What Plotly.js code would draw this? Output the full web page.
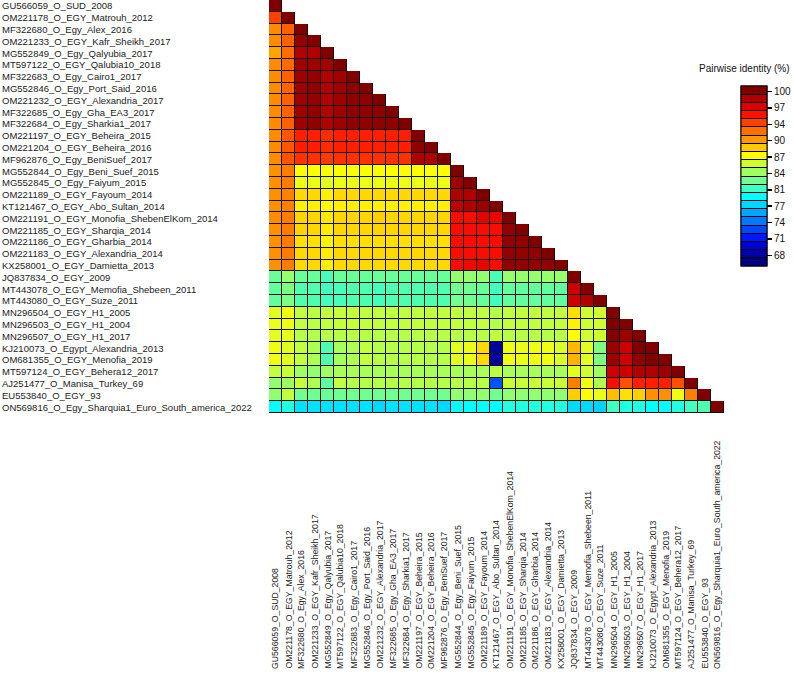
<!DOCTYPE html>
<html><head><meta charset="utf-8">
<script src="https://cdn.plot.ly/plotly-3.0.1.min.js"></script>
<style>html,body{margin:0;padding:0;background:#fff}#chart{width:794px;height:680px}</style>
</head><body><div id="chart"></div>
<script>
const sequences = [
 'GU566059_O_SUD_2008','OM221178_O_EGY_Matrouh_2012','MF322680_O_Egy_Alex_2016','OM221233_O_EGY_Kafr_Sheikh_2017',
 'MG552849_O_Egy_Qalyubia_2017','MT597122_O_EGY_Qalubia10_2018','MF322683_O_Egy_Cairo1_2017','MG552846_O_Egy_Port_Said_2016',
 'OM221232_O_EGY_Alexandria_2017','MF322685_O_Egy_Gha_EA3_2017','MF322684_O_Egy_Sharkia1_2017','OM221197_O_EGY_Beheira_2015',
 'OM221204_O_EGY_Beheira_2016','MF962876_O_Egy_BeniSuef_2017','MG552844_O_Egy_Beni_Suef_2015','MG552845_O_Egy_Faiyum_2015',
 'OM221189_O_EGY_Fayoum_2014','KT121467_O_EGY_Abo_Sultan_2014','OM221191_O_EGY_Monofia_ShebenElKom_2014','OM221185_O_EGY_Sharqia_2014',
 'OM221186_O_EGY_Gharbia_2014','OM221183_O_EGY_Alexandria_2014','KX258001_O_EGY_Damietta_2013','JQ837834_O_EGY_2009',
 'MT443078_O_EGY_Memofia_Shebeen_2011','MT443080_O_EGY_Suze_2011','MN296504_O_EGY_H1_2005','MN296503_O_EGY_H1_2004',
 'MN296507_O_EGY_H1_2017','KJ210073_O_Egypt_Alexandria_2013','OM681355_O_EGY_Menofia_2019','MT597124_O_EGY_Behera12_2017',
 'AJ251477_O_Manisa_Turkey_69','EU553840_O_EGY_93','ON569816_O_Egy_Sharquia1_Euro_South_america_2022'
];

// lower-triangle pairwise identity (%), row i has values for columns 0..i
const identity = [
 [100],
 [93.9, 100],
 [91.2, 92.8, 100],
 [91.2, 92.8, 99.4, 100],
 [90.3, 92.4, 98.6, 98.7, 100],
 [91.2, 92.5, 99.1, 99.2, 99.0, 100],
 [91.2, 92.8, 99.2, 99.5, 98.6, 99.0, 100],
 [91.2, 92.8, 99.1, 99.5, 98.6, 99.1, 99.6, 100],
 [91.2, 92.8, 99.1, 99.5, 98.6, 99.1, 99.6, 99.6, 100],
 [91.2, 92.8, 99.1, 99.5, 98.6, 99.1, 99.6, 99.6, 99.6, 100],
 [91.2, 92.8, 99.1, 99.6, 98.7, 99.2, 99.6, 99.6, 99.6, 99.6, 100],
 [91.2, 93.2, 95.0, 95.0, 94.6, 95.0, 95.0, 95.0, 95.0, 95.0, 95.0, 100],
 [91.2, 93.2, 95.0, 95.0, 94.6, 95.0, 95.0, 95.0, 95.0, 95.0, 95.0, 99.6, 100],
 [91.2, 93.3, 94.4, 94.4, 94.1, 94.4, 94.4, 94.4, 94.4, 94.4, 94.4, 98.7, 98.7, 100],
 [91.0, 91.8, 87.5, 87.5, 87.4, 87.5, 87.5, 87.5, 87.5, 87.5, 87.5, 87.5, 87.5, 87.5, 100],
 [91.0, 91.8, 86.9, 86.9, 86.6, 86.9, 86.9, 86.9, 86.9, 86.9, 86.9, 86.9, 86.9, 86.9, 99.2, 100],
 [91.0, 91.6, 88.6, 88.6, 87.9, 88.6, 88.6, 88.6, 88.6, 88.6, 88.6, 88.6, 88.6, 88.6, 98.7, 98.7, 100],
 [91.0, 91.6, 87.9, 87.9, 87.5, 87.9, 87.9, 87.9, 87.9, 87.9, 87.9, 87.9, 87.9, 87.9, 98.3, 98.7, 99.2, 100],
 [91.2, 91.8, 88.7, 88.7, 88.1, 88.7, 88.7, 88.7, 88.9, 88.7, 88.7, 88.7, 88.7, 88.7, 95.8, 95.8, 96.8, 96.5, 100],
 [91.0, 91.8, 88.7, 88.7, 88.0, 88.7, 88.7, 88.7, 88.7, 88.7, 88.7, 88.7, 88.7, 88.7, 95.8, 95.8, 95.8, 95.8, 99.5, 100],
 [91.0, 91.8, 88.4, 88.4, 87.8, 88.4, 88.4, 88.4, 88.4, 88.4, 88.4, 88.4, 88.4, 88.4, 95.8, 95.8, 95.8, 95.8, 99.5, 99.5, 100],
 [91.0, 91.8, 88.6, 88.6, 88.0, 88.6, 88.6, 88.6, 88.6, 88.6, 88.6, 88.6, 88.6, 88.6, 95.8, 95.8, 95.8, 95.8, 99.5, 99.5, 99.5, 100],
 [91.0, 91.8, 88.6, 88.6, 88.0, 88.6, 88.6, 88.6, 88.6, 88.6, 88.6, 88.6, 88.6, 88.6, 95.8, 96.2, 96.5, 95.8, 99.5, 99.5, 99.5, 99.5, 100],
 [82.4, 84.0, 82.4, 82.4, 81.3, 82.4, 82.4, 82.4, 82.4, 82.4, 82.4, 82.4, 82.4, 82.4, 83.9, 83.9, 83.9, 81.4, 84.0, 84.0, 84.0, 84.0, 84.0, 100],
 [82.2, 83.2, 81.6, 81.6, 81.1, 81.3, 81.6, 81.6, 81.2, 81.6, 81.6, 81.6, 81.6, 81.6, 82.7, 82.7, 82.4, 81.1, 82.2, 82.2, 82.2, 82.2, 82.2, 97.6, 100],
 [82.2, 83.2, 81.6, 81.6, 81.1, 81.3, 81.6, 81.6, 81.2, 81.6, 81.6, 81.6, 81.6, 81.6, 82.7, 82.7, 82.4, 81.1, 82.2, 82.2, 82.2, 82.2, 82.2, 97.6, 98.7, 100],
 [86.5, 87.0, 85.4, 85.2, 85.4, 85.6, 85.6, 85.4, 85.4, 85.4, 85.4, 85.4, 85.4, 85.4, 85.4, 85.4, 85.4, 85.0, 85.4, 85.4, 85.4, 85.4, 85.4, 88.4, 85.9, 85.9, 100],
 [86.8, 87.0, 85.4, 85.2, 85.4, 85.6, 85.6, 85.4, 85.4, 85.4, 85.4, 85.4, 85.4, 85.4, 85.4, 85.4, 85.4, 85.0, 85.4, 85.4, 85.4, 85.4, 85.4, 87.9, 85.9, 85.9, 100, 100],
 [86.5, 86.6, 85.1, 84.9, 85.1, 85.1, 85.1, 85.1, 85.1, 85.1, 85.1, 85.1, 85.1, 85.1, 85.1, 85.1, 85.1, 85.3, 85.1, 85.1, 85.1, 85.1, 85.1, 87.5, 85.9, 85.9, 99.9, 99.2, 100],
 [87.0, 86.5, 85.4, 84.8, 81.6, 84.5, 84.8, 85.4, 85.1, 85.1, 85.1, 85.1, 85.1, 85.1, 86.5, 86.8, 88.6, 68.0, 87.0, 86.8, 87.0, 87.0, 86.2, 89.6, 86.5, 83.2, 99.2, 97.6, 100, 100],
 [87.0, 86.5, 85.4, 84.8, 81.6, 84.5, 84.8, 85.4, 85.1, 85.1, 85.1, 85.1, 85.1, 85.1, 86.5, 86.8, 88.6, 68.0, 87.0, 86.8, 87.0, 87.0, 86.2, 89.8, 86.5, 83.2, 99.2, 97.6, 99.5, 100, 100],
 [85.4, 85.7, 84.3, 83.8, 84.3, 84.6, 84.6, 84.6, 84.6, 84.6, 84.6, 84.6, 84.6, 84.6, 84.6, 84.6, 84.6, 85.2, 84.6, 84.6, 84.6, 84.6, 84.6, 86.5, 85.9, 84.3, 97.6, 97.6, 98.7, 98.7, 99.2, 100],
 [83.8, 84.3, 85.6, 84.8, 82.2, 85.4, 85.1, 85.1, 85.1, 85.1, 85.1, 85.1, 85.1, 85.1, 85.1, 85.1, 85.1, 73.4, 85.7, 85.7, 85.7, 85.7, 85.7, 91.7, 87.0, 84.8, 95.8, 93.4, 95.0, 95.0, 95.0, 93.4, 100],
 [83.8, 85.4, 82.7, 82.7, 82.4, 82.7, 82.7, 82.7, 82.7, 82.7, 82.7, 82.7, 82.7, 82.7, 83.8, 83.8, 83.8, 82.7, 83.8, 83.8, 83.8, 83.8, 83.8, 88.9, 87.5, 86.8, 89.4, 88.4, 88.9, 91.0, 91.0, 87.0, 91.7, 100],
 [79.5, 80.3, 78.3, 78.3, 78.3, 78.3, 78.3, 78.3, 77.9, 78.3, 78.3, 78.3, 78.3, 77.9, 79.5, 79.5, 79.5, 79.5, 80.3, 80.3, 80.3, 80.3, 80.3, 78.0, 78.0, 77.7, 81.1, 80.3, 80.3, 79.5, 79.5, 80.3, 81.1, 81.6, 100]
];

const colorbarTickValues = [100, 96.8, 93.6, 90.4, 87.2, 84, 80.8, 77.6, 74.4, 71.2, 68];
const colorbarTickLabels = ['100','97','94','90','87','84','81','77','74','71','68'];
const paletteColors = ['#000080','#0000A8','#0000D8','#0018FF','#0048FF','#0078FF','#00A8FF','#00D8FF','#00FFFF','#40FFC0',
  '#70FF90','#A0FF60','#D0FF30','#FFFF00','#FFC800','#FF9800','#FF7000','#FF4000','#FF1000','#DD0000','#B00000','#800000'];
const zMin = 65.9, zMax = 101.1;

const nBins = paletteColors.length;
const binW = (zMax - zMin) / nBins;
const norm = v => Math.min(1, Math.max(0, (v - zMin) / (zMax - zMin)));

// continuous scale for the cells (stops at bin centres, top stop at 100)
const smoothScale = [[0, paletteColors[0]]];
paletteColors.forEach((c, k) => {
  const centre = (k === nBins - 1) ? 100 : zMin + binW * (k + 0.5);
  smoothScale.push([norm(centre), c]);
});
smoothScale.push([1, paletteColors[nBins - 1]]);

// stepped scale for the key
const stepScale = [];
paletteColors.forEach((c, k) => { stepScale.push([k / nBins, c]); stepScale.push([(k + 1) / nBins, c]); });
const binEdges = [];
for (let k = 1; k < nBins; k++) binEdges.push(zMin + binW * k);

const n = sequences.length;
const z = sequences.map((_, i) => sequences.map((_, j) => j <= i ? identity[i][j] : null));
const mask = sequences.map((_, i) => sequences.map((_, j) => j <= i ? 1 : null));

const plotL = 269, plotR = 70, plotT = 0, plotB = 267;
const plotW = 794 - plotL - plotR, plotH = 680 - plotT - plotB;
const px2x = p => (p - plotL) / plotW;
const px2y = p => (plotH - (p - plotT)) / plotH;

const cbCommon = {
  x: px2x(741), xanchor: 'left', y: px2y(176), yanchor: 'middle',
  len: 180, lenmode: 'pixels', thickness: 26, thicknessmode: 'pixels',
  xpad: 0, ypad: 0, outlinewidth: 1, outlinecolor: '#000'
};

const font = 'Liberation Sans, Arial, sans-serif';

// key-only traces live on hidden axes whose range excludes their single cell
const keyTrace = extra => Object.assign({
  type: 'heatmap', x: [0], y: [0], z: [[zMin]], xaxis: 'x2', yaxis: 'y2',
  colorscale: stepScale, zmin: zMin, zmax: zMax, zauto: false, showscale: true, hoverinfo: 'skip'
}, extra);

const traces = [
  { type: 'heatmap', x: sequences, y: sequences, z: mask, colorscale: [[0,'#111'],[1,'#111']],
    zmin: 0, zmax: 1, showscale: false, hoverinfo: 'skip' },
  { type: 'heatmap', x: sequences, y: sequences, z: z, colorscale: smoothScale, zmin: zMin, zmax: zMax,
    xgap: 1, ygap: 1, showscale: false, hoverongaps: false },
  keyTrace({ colorbar: Object.assign({}, cbCommon, { tickmode: 'array', tickvals: colorbarTickValues, ticktext: colorbarTickLabels,
      ticks: 'outside', ticklen: 5, tickwidth: 1.5, tickcolor: '#000',
      tickfont: { family: font, size: 10, color: '#111' } }) }),
  keyTrace({ colorbar: Object.assign({}, cbCommon, { tickmode: 'array', tickvals: binEdges,
      ticks: 'inside', ticklen: 26, tickwidth: 1, tickcolor: '#000', showticklabels: false }) })
];

const annotations = [];
sequences.forEach(s => {
  annotations.push({ x: px2x(0), xref: 'paper', y: s, yref: 'y', xanchor: 'left', yanchor: 'middle',
    text: s, showarrow: false, font: { family: font, size: 9.5, color: '#222' } });
  annotations.push({ x: s, xref: 'x', y: px2y(671), yref: 'paper', xanchor: 'center', yanchor: 'bottom',
    textangle: -90, text: s, showarrow: false, font: { family: font, size: 8.7, color: '#222' } });
});
annotations.push({ x: px2x(697), xref: 'paper', y: px2y(68), yref: 'paper', xanchor: 'left', yanchor: 'middle',
  text: 'Pairwise identity (%)', showarrow: false, font: { family: font, size: 10, color: '#111' } });

const hiddenAxis = { visible: false, range: [10, 11], showgrid: false, zeroline: false, fixedrange: true };
const layout = {
  width: 794, height: 680,
  margin: { l: plotL, r: plotR, t: plotT, b: plotB, autoexpand: false },
  paper_bgcolor: '#fff', plot_bgcolor: 'rgba(0,0,0,0)',
  xaxis: { type: 'category', range: [-0.5, n - 0.5], showticklabels: false, showgrid: false, zeroline: false, ticks: '', showline: false },
  yaxis: { type: 'category', range: [n - 0.5, -0.5], showticklabels: false, showgrid: false, zeroline: false, ticks: '', showline: false },
  xaxis2: Object.assign({ overlaying: 'x', anchor: 'y2' }, hiddenAxis),
  yaxis2: Object.assign({ overlaying: 'y', anchor: 'x2' }, hiddenAxis),
  annotations: annotations,
  showlegend: false
};

Plotly.newPlot('chart', traces, layout, { displayModeBar: false, staticPlot: true });
</script>
</body></html>
